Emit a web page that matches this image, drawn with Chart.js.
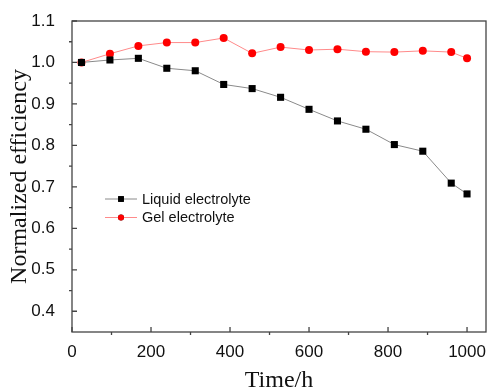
<!DOCTYPE html>
<html>
<head>
<meta charset="utf-8">
<script src="https://cdn.jsdelivr.net/npm/chart.js@4/dist/chart.umd.min.js"></script>
<style>
  html, body { margin: 0; padding: 0; background: #fff; }
  #wrap { width: 491px; height: 389px; }
</style>
</head>
<body>
<div id="wrap"><canvas id="myChart" width="491" height="389"></canvas></div>
<script>
// time points (h)
const hours = [24, 96, 168, 240, 312, 384, 456, 528, 600, 672, 744, 816, 888, 960, 1000];
// normalized efficiency
const liquid = [1.0, 1.006, 1.010, 0.986, 0.980, 0.947, 0.937, 0.916, 0.887, 0.859, 0.839, 0.802, 0.786, 0.709, 0.683];
const gel = [1.0, 1.021, 1.040, 1.048, 1.048, 1.059, 1.022, 1.037, 1.030, 1.032, 1.026, 1.025, 1.028, 1.025, 1.010];
// tick labels
const xTicks = [0, 200, 400, 600, 800, 1000];
const xMinor = [100, 300, 500, 700, 900];
const yTicks = [0.4, 0.5, 0.6, 0.7, 0.8, 0.9, 1.0, 1.1];
const yMinor = [0.45, 0.55, 0.65, 0.75, 0.85, 0.95, 1.05];

const toXY = (xs, ys) => xs.map((x, i) => ({ x: x, y: ys[i] }));

// frame + origin style ticks (major in, minor out)
const frameTicks = {
  id: "frameTicks",
  afterDatasetsDraw(chart) {
    const { ctx, chartArea: a, scales } = chart;
    ctx.save();
    ctx.strokeStyle = "#444";
    ctx.lineWidth = 1.3;
    ctx.strokeRect(a.left, a.top, a.right - a.left, a.bottom - a.top);
    ctx.beginPath();
    xTicks.forEach((v) => {
      const px = scales.x.getPixelForValue(v);
      ctx.moveTo(px, a.bottom);
      ctx.lineTo(px, a.bottom - 5);
    });
    xMinor.forEach((v) => {
      const px = scales.x.getPixelForValue(v);
      ctx.moveTo(px, a.bottom);
      ctx.lineTo(px, a.bottom + 3);
    });
    yTicks.forEach((v) => {
      const py = scales.y.getPixelForValue(v);
      ctx.moveTo(a.left, py);
      ctx.lineTo(a.left + 5, py);
    });
    yMinor.forEach((v) => {
      const py = scales.y.getPixelForValue(v);
      ctx.moveTo(a.left, py);
      ctx.lineTo(a.left - 3, py);
    });
    ctx.stroke();
    ctx.restore();
  },
};

// legend with line + marker, like Origin
const lineLegend = {
  id: "lineLegend",
  afterDraw(chart) {
    const { ctx } = chart;
    const x0 = 105, y0 = 199, gap = 18.5;
    ctx.save();
    chart.data.datasets.forEach((ds, i) => {
      const y = y0 + i * gap;
      ctx.strokeStyle = ds.borderColor;
      ctx.lineWidth = 1;
      ctx.beginPath();
      ctx.moveTo(x0, y);
      ctx.lineTo(x0 + 32, y);
      ctx.stroke();
      Chart.helpers.drawPoint(ctx, {
        pointStyle: ds.pointStyle,
        radius: ds.pointRadius - 1,
        borderWidth: 0,
      }, x0 + 16, y);
      ctx.fillStyle = ds.pointBackgroundColor;
      ctx.fill();
      ctx.fillStyle = "#111";
      ctx.font = "14.5px 'Liberation Sans', Arial, sans-serif";
      ctx.textBaseline = "middle";
      ctx.fillText(ds.label, x0 + 37, y + 0.5);
    });
    ctx.restore();
  },
};

const data = {
  datasets: [
    {
      label: "Liquid electrolyte",
      data: toXY(hours, liquid),
      borderColor: "#8a8a8a",
      borderWidth: 1,
      pointStyle: "rect",
      pointRadius: 5,
      pointBackgroundColor: "#000",
      pointBorderColor: "#000",
      pointBorderWidth: 0,
    },
    {
      label: "Gel electrolyte",
      data: toXY(hours, gel),
      borderColor: "#ff8a8a",
      borderWidth: 1,
      pointStyle: "circle",
      pointRadius: 4,
      pointBackgroundColor: "#ff0000",
      pointBorderColor: "#ff0000",
      pointBorderWidth: 0,
    },
  ],
};

const tickFont = { family: "'Liberation Sans', Arial, sans-serif", size: 17 };
const titleFont = { family: "'Liberation Serif', 'Times New Roman', serif", size: 24, lineHeight: 1 };

const config = {
  type: "line",
  data: data,
  options: {
    responsive: false,
    animation: false,
    layout: { padding: { top: 21, right: 2, left: 0, bottom: 0 } },
    plugins: {
      legend: { display: false },
      tooltip: { enabled: false },
    },
    scales: {
      x: {
        type: "linear",
        min: 0,
        max: 1048,
        grid: { display: false },
        border: { display: false },
        afterBuildTicks: (s) => { s.ticks = xTicks.map((v) => ({ value: v })); },
        afterFit: (s) => { s.height = 57; },
        ticks: { color: "#111", font: tickFont, padding: 2, maxRotation: 0, callback: (v) => String(v) },
        title: { display: true, text: "Time/h", color: "#111", font: titleFont, padding: { top: 0, bottom: -3.5 } },
      },
      y: {
        min: 0.35,
        max: 1.1,
        grid: { display: false },
        border: { display: false },
        afterBuildTicks: (s) => { s.ticks = yTicks.map((v) => ({ value: v })); },
        afterFit: (s) => { s.width = 72; },
        ticks: { color: "#111", font: tickFont, padding: 9, callback: (v) => v.toFixed(1) },
        title: { display: true, text: "Normalized efficiency", color: "#111", font: titleFont, padding: { top: 8, bottom: 0 } },
      },
    },
  },
  plugins: [frameTicks, lineLegend],
};

const myChart = new Chart(document.getElementById("myChart"), config);
</script>
</body>
</html>
